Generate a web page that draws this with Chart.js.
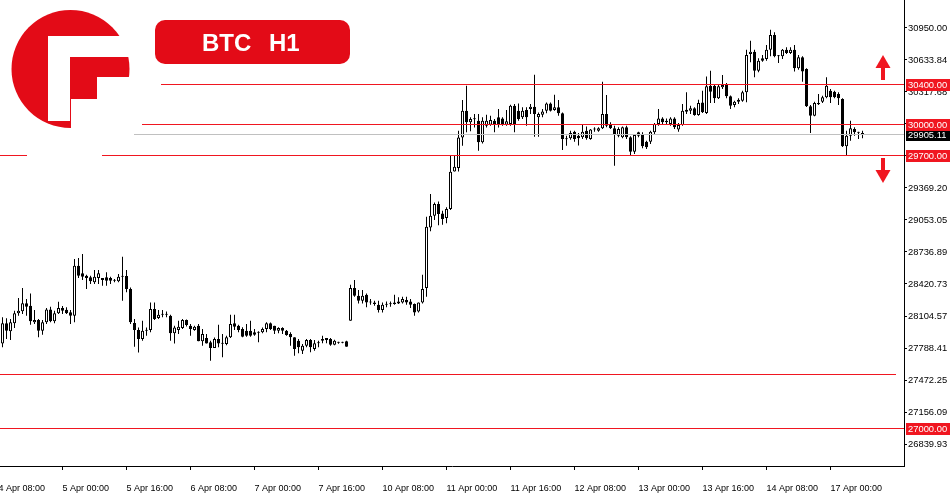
<!DOCTYPE html>
<html>
<head>
<meta charset="utf-8">
<script src="https://cdn.jsdelivr.net/npm/chart.js@4.4.0/dist/chart.umd.min.js"></script>
<style>
  html, body { margin: 0; padding: 0; background: #fff; }
  #wrap { width: 950px; height: 500px; }
</style>
</head>
<body>
<div id="wrap"><canvas id="chart" width="950" height="500"></canvas></div>
<script>
// ---- DATA (BTC H1, 4 Apr 08:00 -> 17 Apr 08:00, weekends skipped) ----
const xTickIndex  = [0, 16, 32, 48, 64, 80, 96, 112, 128, 144, 160, 176, 192, 208];
const xTickLabels = ['4 Apr 08:00', '5 Apr 00:00', '5 Apr 16:00', '6 Apr 08:00', '7 Apr 00:00',
  '7 Apr 16:00', '10 Apr 08:00', '11 Apr 00:00', '11 Apr 16:00', '12 Apr 08:00',
  '13 Apr 00:00', '13 Apr 16:00', '14 Apr 08:00', '17 Apr 00:00'];

const yTickValues = [26839.93, 27156.09, 27472.25, 27788.41, 28104.57, 28420.73, 28736.89,
  29053.05, 29369.20, 29685.36, 30001.52, 30317.68, 30633.84, 30950.00];
const yTickLabels = ['26839.93', '27156.09', '27472.25', '27788.41', '28104.57', '28420.73', '28736.89',
  '29053.05', '29369.20', '29685.36', '30001.52', '30317.68', '30633.84', '30950.00'];

const opens = [
  27800, 27834, 28032, 27953, 28032, 28131, 28151, 28230, 28207, 28042,
  28065, 27960, 28042, 28170, 28052, 28131, 28184, 28167, 28141, 28108,
  28602, 28526, 28503, 28487, 28437, 28480, 28480, 28487, 28480, 28454,
  28447, 28493, 28500, 28371, 28035, 27966, 27877, 27960, 27966, 28173,
  28084, 28117, 28117, 28107, 27933, 27966, 27986, 28065, 28009, 27966,
  28009, 27854, 27887, 27844, 27788, 27877, 27834, 27828, 27894, 28032,
  28009, 27976, 27960, 27960, 27943, 27943, 27943, 27976, 28032, 28009,
  27960, 27986, 27960, 27927, 27894, 27861, 27762, 27811, 27867, 27779,
  27835, 27861, 27867, 27877, 27821, 27844, 27844, 27854, 28058, 28381,
  28305, 28256, 28315, 28239, 28239, 28216, 28164, 28216, 28220, 28239,
  28229, 28239, 28262, 28249, 28223, 28150, 28239, 28381, 28980, 29095,
  29211, 29118, 29072, 29161, 29533, 29566, 29869, 30133, 30018, 30051,
  30034, 29820, 29985, 29995, 30034, 30067, 30057, 29995, 30001, 30182,
  30133, 30067, 30139, 30149, 30172, 30067, 30093, 30133, 30205, 30139,
  30166, 30107, 29853, 29860, 29926, 29886, 29870, 29936, 29853, 29946,
  29936, 29959, 30100, 30001, 29959, 29886, 29870, 29969, 29870, 29728,
  29919, 29893, 29827, 29827, 29919, 30001, 30057, 30034, 30001, 30057,
  29946, 29992, 30143, 30133, 30156, 30090, 30215, 30110, 30380, 30380,
  30255, 30364, 30397, 30275, 30189, 30222, 30232, 30314, 30693, 30716,
  30528, 30650, 30644, 30736, 30881, 30670, 30670, 30736, 30703, 30736,
  30552, 30660, 30545, 30176, 30084, 30209, 30222, 30265, 30331, 30320,
  30298, 30249, 29781, 29886, 29952, 29919, 29903
];
const highs = [
  27850, 28091, 28082, 28075, 28157, 28282, 28381, 28273, 28328, 28164,
  28075, 28065, 28184, 28197, 28157, 28246, 28203, 28190, 28164, 28668,
  28678, 28717, 28513, 28503, 28559, 28559, 28480, 28536, 28493, 28470,
  28519, 28690, 28560, 28387, 28075, 27992, 28058, 27992, 28239, 28239,
  28163, 28163, 28150, 28117, 28009, 28058, 28075, 28070, 28025, 28009,
  28025, 27976, 27926, 27860, 27893, 28019, 27927, 27910, 28118, 28118,
  28019, 27993, 28025, 28058, 27976, 27953, 27990, 28042, 28040, 28009,
  27993, 27993, 27966, 27943, 27894, 27877, 27828, 27877, 27877, 27867,
  27861, 27910, 27887, 27887, 27870, 27850, 27850, 27860, 28414, 28460,
  28361, 28361, 28328, 28272, 28256, 28256, 28239, 28249, 28249, 28315,
  28289, 28295, 28295, 28272, 28229, 28239, 28512, 29086, 29309, 29227,
  29237, 29145, 29178, 29688, 29688, 29935, 30238, 30380, 30067, 30100,
  30100, 30067, 30093, 30083, 30051, 30149, 30067, 30139, 30192, 30199,
  30205, 30166, 30166, 30199, 30488, 30116, 30149, 30215, 30215, 30291,
  30238, 30116, 29886, 29936, 29936, 29913, 30001, 29978, 29952, 29969,
  29969, 30420, 30288, 30018, 29985, 29969, 29978, 29985, 29880, 29903,
  29926, 29919, 29837, 29936, 30011, 30150, 30067, 30057, 30067, 30067,
  30011, 30199, 30314, 30182, 30166, 30242, 30331, 30472, 30528, 30387,
  30387, 30486, 30407, 30282, 30232, 30255, 30331, 30736, 30825, 30736,
  30650, 30683, 30782, 30933, 30907, 30683, 30742, 30759, 30759, 30782,
  30683, 30670, 30552, 30189, 30222, 30298, 30281, 30463, 30347, 30331,
  30314, 30255, 29936, 30034, 29969, 29926, 29936
];
const lows = [
  27760, 27795, 27877, 27867, 27986, 28108, 28124, 28108, 28019, 28026,
  27894, 27920, 28026, 28042, 28032, 28124, 28124, 28124, 28026, 28042,
  28480, 28460, 28371, 28421, 28421, 28421, 28404, 28404, 28421, 28437,
  28437, 28256, 28340, 28025, 27801, 27745, 27860, 27910, 27943, 28065,
  28075, 28091, 28091, 27860, 27834, 27926, 27976, 28000, 27910, 27959,
  27854, 27811, 27834, 27663, 27788, 27795, 27696, 27815, 27887, 27966,
  27943, 27894, 27900, 27900, 27910, 27844, 27935, 27943, 27966, 27927,
  27933, 27927, 27910, 27811, 27713, 27736, 27729, 27795, 27746, 27762,
  27795, 27835, 27835, 27811, 27815, 27830, 27835, 27800, 28058, 28295,
  28229, 28229, 28190, 28216, 28206, 28140, 28140, 28190, 28196, 28216,
  28223, 28229, 28216, 28183, 28107, 28140, 28229, 28295, 28941, 29053,
  29000, 29007, 29020, 29151, 29533, 29533, 29787, 29919, 29929, 29968,
  29738, 29810, 29968, 29985, 29919, 29968, 29985, 29985, 29985, 29919,
  30034, 30051, 29985, 30100, 29876, 29876, 30067, 30107, 30126, 30133,
  30084, 29744, 29787, 29847, 29827, 29788, 29853, 29847, 29847, 29926,
  29926, 29952, 29969, 29952, 29590, 29870, 29860, 29853, 29695, 29705,
  29870, 29761, 29755, 29804, 29903, 29985, 30001, 30001, 29985, 29952,
  29926, 29985, 30100, 30100, 30084, 30084, 30110, 30100, 30209, 30209,
  30248, 30347, 30255, 30150, 30166, 30200, 30222, 30216, 30611, 30463,
  30512, 30617, 30627, 30670, 30660, 30604, 30644, 30693, 30693, 30519,
  30538, 30420, 30170, 29913, 30077, 30189, 30209, 30255, 30209, 30255,
  30189, 29775, 29689, 29837, 29886, 29853, 29860
];
const closes = [
  27834, 28032, 27960, 28042, 28131, 28157, 28230, 28197, 28052, 28065,
  27960, 28042, 28170, 28052, 28131, 28184, 28157, 28131, 28108, 28602,
  28503, 28493, 28480, 28447, 28493, 28526, 28460, 28454, 28454, 28460,
  28493, 28503, 28371, 28042, 27966, 27877, 27959, 27966, 28173, 28075,
  28117, 28120, 28120, 27933, 27992, 27999, 28065, 28015, 27976, 27999,
  27854, 27926, 27834, 27788, 27877, 27834, 27830, 27894, 28025, 27999,
  27966, 27900, 27910, 27910, 27920, 27940, 27976, 28032, 27976, 27960,
  27986, 27960, 27917, 27894, 27779, 27795, 27811, 27867, 27795, 27835,
  27838, 27877, 27887, 27821, 27861, 27840, 27840, 27802, 28381, 28305,
  28256, 28305, 28239, 28242, 28223, 28164, 28216, 28220, 28226, 28223,
  28249, 28272, 28239, 28216, 28140, 28239, 28371, 28987, 29095, 29211,
  29112, 29062, 29161, 29530, 29579, 29869, 30133, 30018, 30051, 30048,
  29820, 30034, 30034, 30041, 29995, 29995, 29995, 30028, 30182, 30001,
  30051, 30133, 30067, 30172, 30100, 30100, 30126, 30205, 30133, 30166,
  30107, 29853, 29850, 29913, 29853, 29860, 29926, 29860, 29946, 29950,
  29959, 30100, 29985, 29959, 29893, 29952, 29969, 29870, 29728, 29893,
  29886, 29781, 29771, 29926, 30001, 30057, 30018, 30018, 30057, 29969,
  29992, 30133, 30123, 30156, 30090, 30209, 30117, 30374, 30320, 30255,
  30374, 30387, 30275, 30183, 30222, 30242, 30314, 30683, 30716, 30528,
  30627, 30627, 30736, 30881, 30670, 30673, 30736, 30703, 30736, 30552,
  30660, 30519, 30176, 30084, 30209, 30196, 30265, 30380, 30265, 30265,
  30255, 29781, 29886, 29959, 29919, 29916, 29905.11
];

// horizontal levels drawn on the chart
const levelValues = [30400, 30000, 29700, 27530, 27000];
const levelLabels = ['30400.00', '30000.00', '29700.00', null, '27000.00'];
const currentPrice = 29905.11;

// ---- DRAWING ----
const RED = '#f01620';
const LOGO_RED = '#e30b17';
const FONT = "'Liberation Sans', Arial, sans-serif";

const bodies = closes.map((c, i) => ({ x: i, y: [opens[i], c] }));
const wicks = highs.map((h, i) => ({ x: i, y: [lows[i], h] }));

function hLine(ctx, x0, x1, yPix, color) {
  ctx.fillStyle = color;
  ctx.fillRect(x0, yPix, x1 - x0, 1);
}

const overlay = {
  id: 'overlay',
  afterDatasetsDraw(chart) {
    const { ctx, chartArea: a, scales: { y } } = chart;
    const py = v => Math.round(y.getPixelForValue(v));
    ctx.save();
    hLine(ctx, 134, a.right, py(currentPrice), '#c0c0c0');
    hLine(ctx, 161, a.right, py(levelValues[0]), RED);
    hLine(ctx, 142, a.right, py(levelValues[1]), RED);
    hLine(ctx, 0, 27, py(levelValues[2]), RED);
    hLine(ctx, 102, a.right, py(levelValues[2]), RED);
    hLine(ctx, 0, a.right - 8, py(levelValues[3]), RED);
    hLine(ctx, 0, a.right, py(levelValues[4]), RED);
    ctx.restore();
  },
  afterDraw(chart) {
    const { ctx, chartArea: a, scales: { y } } = chart;
    const py = v => Math.round(y.getPixelForValue(v));
    ctx.save();
    ctx.font = '9.4px ' + FONT;
    ctx.textBaseline = 'middle';
    ctx.textAlign = 'left';

    // price boxes on the axis
    const box = (v, txt, bg) => {
      const yy = py(v);
      ctx.fillStyle = bg;
      ctx.fillRect(a.right + 2, yy - 5, 44, 12);
      ctx.fillStyle = '#fff';
      ctx.fillText(txt, a.right + 4, yy + 1);
    };
    box(currentPrice, currentPrice.toFixed(2), '#000');
    levelValues.forEach((v, i) => { if (levelLabels[i]) box(v, levelLabels[i], RED); });

    // arrows
    ctx.fillStyle = RED;
    const ax = 883;
    const upBase = py(levelValues[0]) - 4;
    ctx.fillRect(ax - 2, upBase - 12, 4, 12);
    ctx.beginPath();
    ctx.moveTo(ax, upBase - 25);
    ctx.lineTo(ax - 7.5, upBase - 12);
    ctx.lineTo(ax + 7.5, upBase - 12);
    ctx.closePath();
    ctx.fill();
    const dnTop = py(levelValues[2]) + 3;
    ctx.fillRect(ax - 2, dnTop, 4, 12);
    ctx.beginPath();
    ctx.moveTo(ax - 7.5, dnTop + 12);
    ctx.lineTo(ax + 7.5, dnTop + 12);
    ctx.lineTo(ax, dnTop + 25);
    ctx.closePath();
    ctx.fill();

    // logo
    ctx.fillStyle = LOGO_RED;
    ctx.beginPath();
    ctx.arc(70.5, 69, 59, 0, Math.PI * 2);
    ctx.fill();
    ctx.fillStyle = '#fff';
    ctx.fillRect(48, 36, 22, 85);
    ctx.fillRect(48, 36, 84, 21);
    ctx.fillRect(97, 77, 35, 23);
    ctx.fillRect(71, 99, 61, 31);

    // title badge
    ctx.fillStyle = LOGO_RED;
    ctx.beginPath();
    ctx.roundRect(155, 20, 195, 44, 10);
    ctx.fill();
    ctx.fillStyle = '#fff';
    ctx.font = 'bold 24px ' + FONT;
    ctx.textBaseline = 'alphabetic';
    ctx.fillText('BTC', 202, 51);
    ctx.fillText('H1', 269, 51);
    ctx.restore();
  }
};

new Chart(document.getElementById('chart'), {
  type: 'bar',
  data: {
    datasets: [
      {
        data: bodies,
        backgroundColor: closes.map((c, i) => c >= opens[i] ? '#ffffff' : '#000000'),
        borderColor: '#000',
        borderWidth: 1,
        borderSkipped: false,
        inflateAmount: 0,
        minBarLength: 1,
        maxBarThickness: 3,
        barPercentage: 1,
        categoryPercentage: 1,
        grouped: false,
        order: 0
      },
      {
        data: wicks,
        backgroundColor: '#000',
        borderWidth: 0,
        inflateAmount: 0,
        maxBarThickness: 1,
        barPercentage: 1,
        categoryPercentage: 1,
        grouped: false,
        order: 1
      }
    ]
  },
  options: {
    responsive: false,
    devicePixelRatio: 1,
    animation: false,
    layout: { padding: 0 },
    plugins: { legend: { display: false }, tooltip: { enabled: false } },
    scales: {
      x: {
        type: 'linear',
        min: 0.375,
        max: 226.375,
        offset: false,
        grid: { display: true, drawOnChartArea: false, drawTicks: true, tickLength: 4, color: '#000', offset: false },
        border: { display: true, color: '#000', width: 1 },
        afterBuildTicks: s => { s.ticks = xTickIndex.map(v => ({ value: v })); },
        afterFit: s => { s.height = 34; s.paddingLeft = 0; s.paddingRight = 0; },
        ticks: {
          autoSkip: false,
          maxRotation: 0,
          align: 'start',
          padding: 13,
          color: '#000',
          font: { family: FONT, size: 9 },
          callback: v => xTickLabels[xTickIndex.indexOf(v)] || ''
        }
      },
      y: {
        position: 'right',
        min: 26622.6,
        max: 31226.6,
        grid: { display: true, drawOnChartArea: false, drawTicks: true, tickLength: 3, color: '#000' },
        border: { display: true, color: '#000', width: 1 },
        afterBuildTicks: s => { s.ticks = yTickValues.map(v => ({ value: v })); },
        afterFit: s => { s.width = 46; s.paddingTop = 0; s.paddingBottom = 0; },
        ticks: {
          padding: 1,
          color: '#000',
          font: { family: FONT, size: 9.4 },
          callback: (v, i) => yTickLabels[i]
        }
      }
    }
  },
  plugins: [overlay]
});
</script>
</body>
</html>
